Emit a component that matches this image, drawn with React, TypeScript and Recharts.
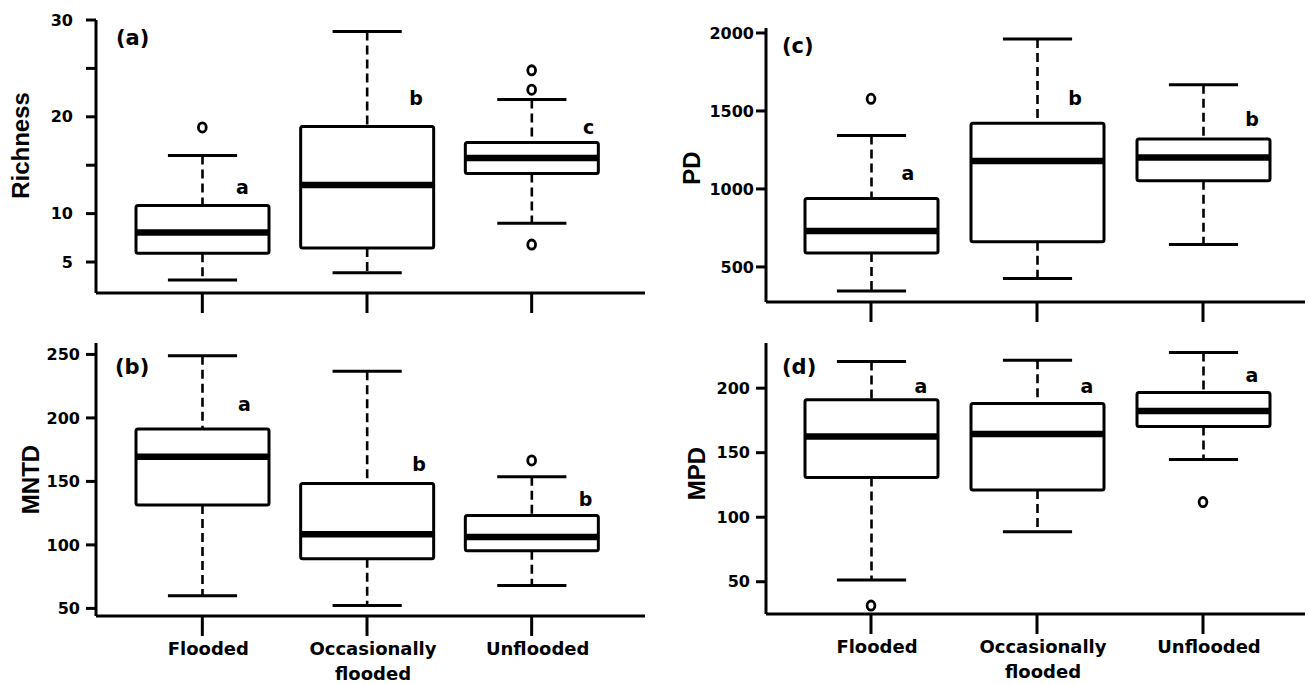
import { Bar, ComposedChart, Scatter, XAxis, YAxis } from 'recharts';

const groups = ['Flooded', 'Occasionally flooded', 'Unflooded'];

// each box: [min, q1, median, q3, max]
const richnessBoxes = [
  [3.15, 5.9, 8.05, 10.85, 16.0],
  [3.9, 6.45, 12.95, 19.0, 28.8],
  [9.0, 14.15, 15.75, 17.35, 21.8]
];
const richnessOutliers = [[18.9], [], [6.8, 22.8, 24.8]];
const richnessLetters = ['a', 'b', 'c'];
const richnessLetterAt = [12.8, 21.9, 18.9];
const richnessTicks = [5, 10, 15, 20, 25, 30];
const richnessHiddenTicks = [15, 25];

const mntdBoxes = [
  [59.9, 131.5, 169.5, 191.3, 249],
  [52.3, 89.1, 108.3, 148.4, 236.8],
  [68.0, 95.4, 106.2, 123.1, 153.6]
];
const mntdOutliers = [[], [], [166.5]];
const mntdLetters = ['a', 'b', 'b'];
const mntdLetterAt = [211, 163.6, 136.3];
const mntdTicks = [50, 100, 150, 200, 250];

const pdBoxes = [
  [346, 590, 731, 939, 1342],
  [425, 661, 1179, 1421, 1961],
  [643, 1053, 1201, 1321, 1668]
];
const pdOutliers = [[1578], [], []];
const pdLetters = ['a', 'b', 'b'];
const pdLetterAt = [1100, 1582, 1449];
const pdTicks = [500, 1000, 1500, 2000];

const mpdBoxes = [
  [51.3, 130.8, 162.6, 191, 220.6],
  [88.8, 121, 164.4, 188.1, 221.7],
  [144.8, 170.3, 182.4, 196.6, 227.6]
];
const mpdOutliers = [[31.5], [], [111.7]];
const mpdLetters = ['a', 'a', 'a'];
const mpdLetterAt = [201.8, 201.8, 210.3];
const mpdTicks = [50, 100, 150, 200];

const FONT = '"DejaVu Sans", sans-serif';
const TITLE_FONT = '"Liberation Sans", Arial, sans-serif';

function buildRows(boxes: number[][], outliers: number[][], letters: string[], letterAt: number[]) {
  return groups.map((group, i) => {
    const [min, q1, median, q3, max] = boxes[i];
    return {
      group,
      min,
      q1,
      median,
      q3,
      max,
      range: [min, max],
      o0: outliers[i][0] ?? null,
      o1: outliers[i][1] ?? null,
      o2: outliers[i][2] ?? null,
      letter: letters[i],
      letterAt: letterAt[i]
    };
  });
}

const panels = [
  {
    id: '(a)',
    title: 'Richness',
    rows: buildRows(richnessBoxes, richnessOutliers, richnessLetters, richnessLetterAt),
    ticks: richnessTicks,
    hidden: richnessHiddenTicks,
    domain: [1.8, 30],
    letterDx: [40, 49, 57],
    left: 0,
    top: 0,
    width: 660,
    height: 330,
    margin: { top: 20, right: 15, left: 36, bottom: 0 },
    xAxisHeight: 37,
    pad: { left: 24, right: 31 },
    tickMargin: 13,
    titleX: 20,
    titleDy: -11,
    labelX: 116,
    labelY: 27,
    showGroups: false
  },
  {
    id: '(b)',
    title: 'MNTD',
    rows: buildRows(mntdBoxes, mntdOutliers, mntdLetters, mntdLetterAt),
    ticks: mntdTicks,
    hidden: [],
    domain: [44, 259],
    letterDx: [42, 52, 54],
    left: 0,
    top: 330,
    width: 660,
    height: 354,
    margin: { top: 13, right: 15, left: 36, bottom: 0 },
    xAxisHeight: 68,
    pad: { left: 24, right: 31 },
    tickMargin: 6,
    titleX: 30,
    titleDy: 0,
    labelX: 115,
    labelY: 356,
    showGroups: true
  },
  {
    id: '(c)',
    title: 'PD',
    rows: buildRows(pdBoxes, pdOutliers, pdLetters, pdLetterAt),
    ticks: pdTicks,
    hidden: [],
    domain: [275, 2032],
    letterDx: [37, 38, 49],
    left: 660,
    top: 0,
    width: 648,
    height: 330,
    margin: { top: 28, right: 3, left: 46, bottom: 0 },
    xAxisHeight: 28,
    pad: { left: 22, right: 19 },
    tickMargin: 2,
    titleX: 31,
    titleDy: 3,
    labelX: 782,
    labelY: 35,
    showGroups: false
  },
  {
    id: '(d)',
    title: 'MPD',
    rows: buildRows(mpdBoxes, mpdOutliers, mpdLetters, mpdLetterAt),
    ticks: mpdTicks,
    hidden: [],
    domain: [25, 235],
    letterDx: [50, 50, 49],
    left: 660,
    top: 330,
    width: 648,
    height: 354,
    margin: { top: 13, right: 3, left: 46, bottom: 0 },
    xAxisHeight: 70,
    pad: { left: 22, right: 19 },
    tickMargin: 6,
    titleX: 36,
    titleDy: -5,
    labelX: 782,
    labelY: 356,
    showGroups: true
  }
];

function BoxShape(props: any) {
  const { x, y, width, height, payload } = props;
  const top = Math.min(y, y + height);
  const span = Math.abs(height);
  const toY = (v: number) => top + ((payload.max - v) / (payload.max - payload.min)) * span;
  const cx = x + width / 2;
  const cap = width * 0.26;
  const yMax = toY(payload.max);
  const yQ3 = toY(payload.q3);
  const yMed = toY(payload.median);
  const yQ1 = toY(payload.q1);
  const yMin = toY(payload.min);
  return (
    <g stroke="#000" fill="none">
      <line x1={cx} x2={cx} y1={yMax} y2={yQ3} strokeWidth={2.6} strokeDasharray="9 5" />
      <line x1={cx} x2={cx} y1={yQ1} y2={yMin} strokeWidth={2.6} strokeDasharray="9 5" />
      <line x1={cx - cap} x2={cx + cap} y1={yMax} y2={yMax} strokeWidth={3} />
      <line x1={cx - cap} x2={cx + cap} y1={yMin} y2={yMin} strokeWidth={3} />
      <rect x={x} y={yQ3} width={width} height={yQ1 - yQ3} strokeWidth={3} rx={2} />
      <line x1={x} x2={x + width} y1={yMed} y2={yMed} strokeWidth={6.5} />
    </g>
  );
}

const outlierShape = (key: string) => (props: any) => {
  const { cx, cy, payload } = props;
  if (payload?.[key] == null || !Number.isFinite(cy)) return <g />;
  return <ellipse cx={cx} cy={cy} rx={3.9} ry={4.6} fill="none" stroke="#000" strokeWidth={2.8} />;
};

const letterShape = (dxs: number[]) => (props: any) => {
  const { cx, cy, payload } = props;
  if (!Number.isFinite(cy)) return <g />;
  const dx = dxs[groups.indexOf(payload.group)] ?? 45;
  return (
    <text x={cx + dx} y={cy} textAnchor="middle" dominantBaseline="central" fontFamily={FONT} fontWeight="bold" fontSize={19} fill="#000">
      {payload.letter}
    </text>
  );
};

function GroupTick({ x, y, payload }: any) {
  const lines = payload.value === 'Occasionally flooded' ? ['Occasionally', 'flooded'] : [payload.value];
  return (
    <text x={x + 6} y={y + 17} textAnchor="middle" fontFamily={FONT} fontWeight="bold" fontSize={18} fill="#000">
      {lines.map((line, i) => (
        <tspan key={line} x={x + 6} dy={i === 0 ? 0 : 25}>
          {line}
        </tspan>
      ))}
    </text>
  );
}

const EmptyTick = () => <g />;

function Panel({ p }: { p: (typeof panels)[number] }) {
  const plotBottom = p.height - p.margin.bottom - p.xAxisHeight;
  const titleY = (p.margin.top + plotBottom) / 2 + p.titleDy;
  return (
    <div style={{ position: 'absolute', left: p.left, top: p.top }}>
      <ComposedChart width={p.width} height={p.height} data={p.rows} margin={p.margin}>
        <XAxis
          dataKey="group"
          type="category"
          height={p.xAxisHeight}
          padding={p.pad}
          tickSize={20}
          tickMargin={2}
          interval={0}
          axisLine={{ stroke: '#000', strokeWidth: 3 }}
          tickLine={{ stroke: '#000', strokeWidth: 3 }}
          tick={p.showGroups ? <GroupTick /> : <EmptyTick />}
        />
        <YAxis
          type="number"
          domain={p.domain}
          ticks={p.ticks}
          allowDataOverflow
          interval={0}
          width={60}
          tickSize={10}
          tickMargin={p.tickMargin}
          axisLine={{ stroke: '#000', strokeWidth: 3 }}
          tickLine={{ stroke: '#000', strokeWidth: 3 }}
          tick={{ fill: '#000', fontSize: 16, fontWeight: 'bold', fontFamily: FONT }}
          tickFormatter={(v) => (p.hidden.includes(Number(v)) ? '' : String(v))}
          label={{
            value: p.title,
            content: () => (
              <text
                x={p.titleX}
                y={titleY}
                transform={`rotate(-90 ${p.titleX} ${titleY})`}
                textAnchor="middle"
                dominantBaseline="central"
                fontFamily={TITLE_FONT}
                fontWeight="bold"
                fontSize={24}
                fill="#000"
              >
                {p.title}
              </text>
            )
          }}
        />
        <Bar dataKey="range" barSize={133} shape={BoxShape} isAnimationActive={false} />
        <Scatter dataKey="o0" shape={outlierShape('o0')} isAnimationActive={false} />
        <Scatter dataKey="o1" shape={outlierShape('o1')} isAnimationActive={false} />
        <Scatter dataKey="o2" shape={outlierShape('o2')} isAnimationActive={false} />
        <Scatter dataKey="letterAt" shape={letterShape(p.letterDx)} isAnimationActive={false} />
      </ComposedChart>
    </div>
  );
}

export default function App() {
  return (
    <div style={{ position: 'absolute', left: 0, top: 0, width: 1308, height: 684, background: '#fff', overflow: 'hidden' }}>
      {panels.map((p) => (
        <Panel key={p.id} p={p} />
      ))}
      {panels.map((p) => (
        <div
          key={`lbl-${p.id}`}
          style={{
            position: 'absolute',
            left: p.labelX,
            top: p.labelY,
            fontFamily: FONT,
            fontWeight: 'bold',
            fontSize: 21,
            lineHeight: '22px',
            color: '#000'
          }}
        >
          {p.id}
        </div>
      ))}
    </div>
  );
}
